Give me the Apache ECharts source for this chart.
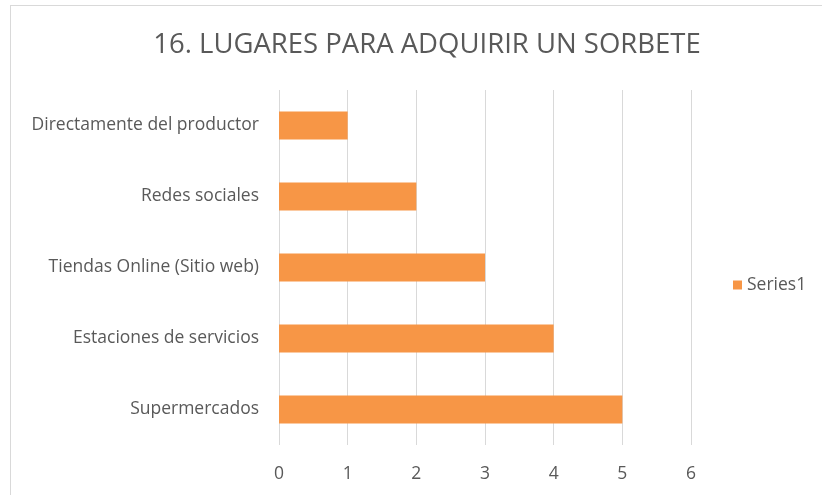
<!DOCTYPE html>
<html><head><meta charset="utf-8">
<script src="https://cdn.jsdelivr.net/npm/echarts@6/dist/echarts.min.js"></script>
<style>html,body{margin:0;padding:0;background:#fff}#c{width:822px;height:495px}
#frame{position:absolute;left:10px;top:5px;width:830px;height:500px;border:1px solid #d9d9d9;box-sizing:border-box;pointer-events:none}</style>
</head><body><div id="c"></div><div id="frame"></div>
<script>
const titleText = "16. LUGARES PARA ADQUIRIR UN SORBETE";
const categories = ["Supermercados", "Estaciones de servicios", "Tiendas Online (Sitio web)", "Redes sociales", "Directamente del productor"];
const values = [5, 4, 3, 2, 1];
const seriesName = "Series1";
const xTicks = [0, 1, 2, 3, 4, 5, 6];

const chart = echarts.init(document.getElementById('c'));
const font = "Open Sans";
chart.setOption({
  animation: false,
  title: {text: titleText, left: 422, top: 26, textAlign: 'center',
    textStyle: {fontFamily: font, fontSize: 27.5, fontWeight: 'normal', color: '#595959'}},
  legend: {data: [seriesName], left: 728, top: 271, itemWidth: 9, itemHeight: 9, itemGap: 6,
    icon: 'rect', textStyle: {fontFamily: font, fontSize: 17.5, color: '#595959'}},
  grid: {left: 279, right: 131, top: 90, bottom: 50},
  xAxis: {type: 'value', min: xTicks[0], max: xTicks[xTicks.length-1], interval: 1,
    axisLine: {show: false}, axisTick: {show: false},
    axisLabel: {fontFamily: font, fontSize: 17.5, color: '#595959', margin: 20},
    splitLine: {lineStyle: {color: '#d9d9d9', width: 1}}},
  yAxis: {type: 'category', data: categories,
    axisLine: {show: false}, axisTick: {show: false},
    axisLabel: {fontFamily: font, fontSize: 17.5, color: '#595959', margin: 20}},
  series: [{name: seriesName, type: 'bar', data: values, barWidth: 28,
    itemStyle: {color: '#f79646'}}]
});
</script></body></html>
